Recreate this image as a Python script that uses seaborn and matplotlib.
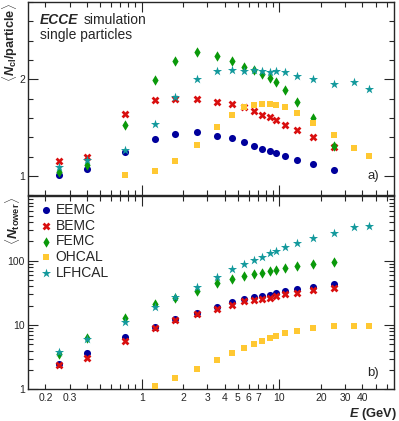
import numpy as np
import matplotlib

matplotlib.use("Agg")
import matplotlib.pyplot as plt
import seaborn as sns
from matplotlib.ticker import FixedLocator, FuncFormatter, NullFormatter

nan = np.nan

energy = [0.25, 0.4, 0.75, 1.25, 1.75, 2.5, 3.5, 4.5, 5.5, 6.5, 7.5, 8.5, 9.5, 11, 13.5, 17.5, 25, 35, 45]
detectors = ["EEMC", "BEMC", "FEMC", "OHCAL", "LFHCAL"]

# a) mean number of clusters per particle
ncl_eemc = [1.01, 1.07, 1.25, 1.38, 1.43, 1.45, 1.41, 1.39, 1.35, 1.31, 1.28, 1.26, 1.24, 1.21, 1.165, 1.12, 1.06, nan, nan]
ncl_bemc = [1.15, 1.20, 1.64, 1.79, 1.80, 1.80, 1.77, 1.74, 1.71, 1.67, 1.63, 1.61, 1.58, 1.53, 1.48, 1.40, 1.30, nan, nan]
ncl_femc = [1.04, 1.11, 1.53, 1.99, 2.19, 2.28, 2.24, 2.19, 2.13, 2.10, 2.05, 2.01, 1.97, 1.89, 1.77, 1.60, 1.31, nan, nan]
ncl_ohcal = [nan, nan, 1.01, 1.05, 1.155, 1.32, 1.51, 1.63, 1.71, 1.73, 1.74, 1.745, 1.73, 1.71, 1.65, 1.545, 1.42, 1.29, 1.21]
ncl_lfhcal = [1.09, 1.165, 1.27, 1.54, 1.82, 2.00, 2.09, 2.10, 2.09, 2.10, 2.09, 2.08, 2.09, 2.07, 2.03, 2.00, 1.95, 1.97, 1.90]

# b) mean number of towers
ntw_eemc = [2.5, 3.63, 6.44, 9.4, 12.2, 15.2, 19.3, 22.5, 25.1, 27.0, 27.9, 29.3, 31.8, 34.2, 36.7, 39.4, 43.9, nan, nan]
ntw_bemc = [2.4, 3.07, 5.64, 8.9, 11.8, 14.7, 17.7, 20.5, 23.6, 24.5, 25.6, 26.6, 28.6, 30.0, 31.8, 34.7, 37.2, nan, nan]
ntw_femc = [3.54, 6.2, 12.7, 21.2, 26.0, 34.2, 44.5, 52.5, 57.8, 62.0, 65.0, 68.4, 71.7, 76.0, 82.7, 89.8, 94.4, nan, nan]
ntw_ohcal = [nan, nan, nan, 1.12, 1.51, 2.05, 2.83, 3.67, 4.44, 5.12, 5.7, 6.28, 6.82, 7.43, 8.15, 8.89, 9.55, 9.6, 9.6]
ntw_lfhcal = [3.85, 6.1, 11.2, 19.3, 27.0, 38.6, 56.4, 74.3, 88.9, 102, 115, 130, 143, 165, 190, 225, 273, 334, 343]

x_tick_labels = [0.2, 0.3, 2, 3, 4, 5, 6, 7, 20, 30, 40]

colors = {"EEMC": "#00009c", "BEMC": "#d90f0f", "FEMC": "#0a990a", "OHCAL": "#ffc832", "LFHCAL": "#13999c"}
markers = {"EEMC": "o", "BEMC": "X", "FEMC": "d", "OHCAL": "s", "LFHCAL": "*"}
msize = {"EEMC": 26, "BEMC": 32, "FEMC": 28, "OHCAL": 24, "LFHCAL": 48}

sns.set_theme(style="ticks")
plt.rcParams["font.family"] = ["Liberation Sans", "DejaVu Sans"]
plt.rcParams["mathtext.fontset"] = "custom"
plt.rcParams["mathtext.rm"] = "Liberation Sans"
plt.rcParams["mathtext.it"] = "Liberation Sans:italic"
plt.rcParams["mathtext.bf"] = "Liberation Sans:bold"
plt.rcParams["mathtext.bfit"] = "Liberation Sans:bold:italic"

W, H = 399, 421
fig = plt.figure(figsize=(W / 100, H / 100), dpi=100)
left, right = 28.3, 394.0
ax1 = fig.add_axes([left / W, 1 - 195.3 / H, (right - left) / W, 193.4 / H])
ax2 = fig.add_axes([left / W, 1 - 389.3 / H, (right - left) / W, 193.0 / H])

top_series = [ncl_eemc, ncl_bemc, ncl_femc, ncl_ohcal, ncl_lfhcal]
bot_series = [ntw_eemc, ntw_bemc, ntw_femc, ntw_ohcal, ntw_lfhcal]

for ax, series in [(ax1, top_series), (ax2, bot_series)]:
    for name, vals in zip(detectors, series):
        sns.scatterplot(
            x=energy, y=vals, marker=markers[name], color=colors[name], s=msize[name],
            linewidth=0, ax=ax, label=name, legend=False, zorder=3,
        )

for ax in (ax1, ax2):
    ax.set_xscale("log")
    ax.set_xlim(0.15, 68)
    ax.xaxis.set_major_locator(FixedLocator([1, 10]))
    minors = [v * d for d in (0.1, 1, 10) for v in range(2, 10) if v * d < 68]
    ax.xaxis.set_minor_locator(FixedLocator(minors))
    ax.tick_params(which="both", direction="in", top=True, right=True, labelsize=7.5, pad=2.5, width=0.8)
    ax.tick_params(which="major", length=7.5)
    ax.tick_params(which="minor", length=3.8)
    for sp in ax.spines.values():
        sp.set_linewidth(1.0)
    ax.set_xlabel("")
    ax.set_ylabel("")

ax1.set_ylim(0.8, 2.8)
ax1.yaxis.set_major_locator(FixedLocator([1, 2]))
ax1.yaxis.set_minor_locator(FixedLocator(list(np.arange(0.8, 2.81, 0.2))))
ax1.xaxis.set_major_formatter(NullFormatter())
ax1.xaxis.set_minor_formatter(NullFormatter())
ax1.set_yticklabels(["1", "2"])

ax2.set_yscale("log")
ax2.set_ylim(1, 1000)
ax2.yaxis.set_major_locator(FixedLocator([1, 10, 100, 1000]))
ax2.yaxis.set_minor_locator(FixedLocator([v * d for d in (1, 10, 100) for v in range(2, 10)]))
ax2.yaxis.set_major_formatter(FuncFormatter(lambda v, p: "" if v >= 1000 else f"{v:g}"))
ax2.yaxis.set_minor_formatter(NullFormatter())
ax2.xaxis.set_major_formatter(FuncFormatter(lambda v, p: f"{v:g}"))
ax2.xaxis.set_minor_formatter(
    FuncFormatter(lambda v, p: f"{v:g}" if any(abs(v - t) < 1e-6 for t in x_tick_labels) else "")
)

ax1.set_ylabel(r"$\langle\mathbfit{N}_{\mathbf{cl}}\mathbf{/particle}\rangle$", fontsize=9.2, loc="top")
ax1.yaxis.set_label_coords(-0.022, 0.995)
ax2.set_ylabel(r"$\langle\mathbfit{N}_{\mathbf{tower}}\rangle$", fontsize=9.5, loc="top")
ax2.yaxis.set_label_coords(-0.018, 0.995)
ax2.set_xlabel(r"$\mathbfit{E}$ (GeV)", fontsize=9.3, fontweight="bold", loc="right")
ax2.xaxis.label.set_va("baseline")
ax2.xaxis.set_label_coords(1.007, -0.142)

ax1.text(0.032, 0.885, "ECCE", transform=ax1.transAxes, fontsize=10, fontweight="bold", fontstyle="italic")
ax1.text(0.152, 0.885, "simulation", transform=ax1.transAxes, fontsize=10)
ax1.text(0.032, 0.81, "single particles", transform=ax1.transAxes, fontsize=10)
ax1.text(0.943, 0.1, "a)", transform=ax1.transAxes, fontsize=9.5, ha="center", va="center")
ax2.text(0.943, 0.084, "b)", transform=ax2.transAxes, fontsize=9.5, ha="center", va="center")

ax2.legend(
    loc="upper left", bbox_to_anchor=(0.025, 0.965), frameon=False, fontsize=10,
    handletextpad=0.1, labelspacing=0.12, borderaxespad=0, handlelength=1.2, borderpad=0,
)

fig.savefig("out.png", dpi=100)
